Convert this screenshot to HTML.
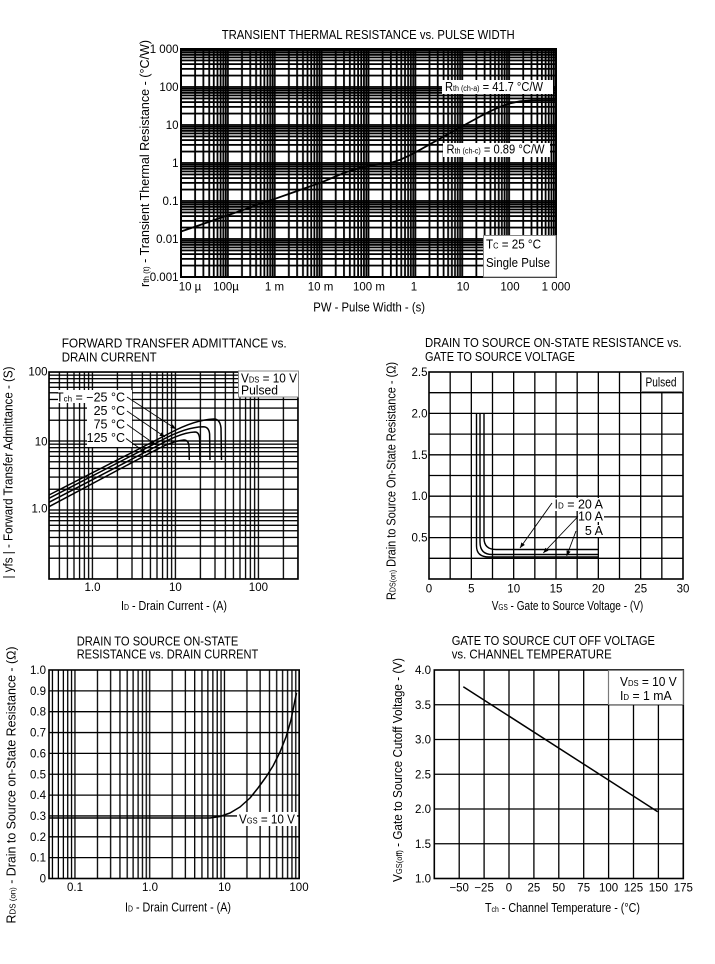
<!DOCTYPE html>
<html><head><meta charset="utf-8">
<style>
html,body{margin:0;padding:0;background:#fff;}
svg{display:block;}
text{font-family:"Liberation Sans",Arial,sans-serif;fill:#000;}
.t{font-size:11.5px;}
.h{font-size:12.5px;}
</style></head><body>
<svg width="715" height="964" viewBox="0 0 715 964" xmlns="http://www.w3.org/2000/svg">
<defs>
<marker id="ah" viewBox="0 0 10 10" refX="10" refY="5" markerWidth="6" markerHeight="6" orient="auto"><path d="M0,1 L10,5 L0,9 z" fill="#000"/></marker>
<pattern id="p1v" patternUnits="userSpaceOnUse" x="180" y="0" width="46.875" height="964">
<g fill="#000"><rect x="0.1" y="0" width="1.8" height="964"/><rect x="14.21" y="0" width="1.8" height="964"/><rect x="22.47" y="0" width="1.8" height="964"/><rect x="28.32" y="0" width="1.8" height="964"/><rect x="32.86" y="0" width="1.8" height="964"/><rect x="36.58" y="0" width="1.8" height="964"/><rect x="39.71" y="0" width="1.8" height="964"/><rect x="42.43" y="0" width="1.8" height="964"/><rect x="44.83" y="0" width="1.8" height="964"/></g>
</pattern>
<pattern id="p1h" patternUnits="userSpaceOnUse" x="0" y="12" width="715" height="38">
<g fill="#000"><rect x="0" y="36.1" width="715" height="1.8"/><rect x="0" y="24.66" width="715" height="1.8"/><rect x="0" y="17.97" width="715" height="1.8"/><rect x="0" y="13.22" width="715" height="1.8"/><rect x="0" y="9.54" width="715" height="1.8"/><rect x="0" y="6.54" width="715" height="1.8"/><rect x="0" y="4.0" width="715" height="1.8"/><rect x="0" y="1.78" width="715" height="1.8"/><rect x="0" y="0" width="715" height="1.64"/></g>
</pattern>
<pattern id="p2v" patternUnits="userSpaceOnUse" x="91.4" y="0" width="83" height="964">
<g fill="#000"><rect x="0.35" y="0" width="1.3" height="964"/><rect x="25.34" y="0" width="1.3" height="964"/><rect x="39.95" y="0" width="1.3" height="964"/><rect x="50.32" y="0" width="1.3" height="964"/><rect x="58.36" y="0" width="1.3" height="964"/><rect x="64.94" y="0" width="1.3" height="964"/><rect x="70.49" y="0" width="1.3" height="964"/><rect x="75.31" y="0" width="1.3" height="964"/><rect x="79.55" y="0" width="1.3" height="964"/></g>
</pattern>
<pattern id="p2h" patternUnits="userSpaceOnUse" x="0" y="304" width="715" height="69">
<g fill="#000"><rect x="0" y="67.35" width="715" height="1.3"/><rect x="0" y="46.58" width="715" height="1.3"/><rect x="0" y="34.43" width="715" height="1.3"/><rect x="0" y="25.81" width="715" height="1.3"/><rect x="0" y="19.12" width="715" height="1.3"/><rect x="0" y="13.66" width="715" height="1.3"/><rect x="0" y="9.04" width="715" height="1.3"/><rect x="0" y="5.04" width="715" height="1.3"/><rect x="0" y="1.51" width="715" height="1.3"/></g>
</pattern>
<pattern id="p4v" patternUnits="userSpaceOnUse" x="73.95" y="0" width="74.75" height="964">
<g fill="#000"><rect x="0.35" y="0" width="1.3" height="964"/><rect x="22.85" y="0" width="1.3" height="964"/><rect x="36.02" y="0" width="1.3" height="964"/><rect x="45.35" y="0" width="1.3" height="964"/><rect x="52.6" y="0" width="1.3" height="964"/><rect x="58.52" y="0" width="1.3" height="964"/><rect x="63.52" y="0" width="1.3" height="964"/><rect x="67.86" y="0" width="1.3" height="964"/><rect x="71.68" y="0" width="1.3" height="964"/></g>
</pattern>
</defs>

<!-- ================= TOP CHART ================= -->
<text class="h" x="221.7" y="39" textLength="293" lengthAdjust="spacingAndGlyphs">TRANSIENT THERMAL RESISTANCE vs. PULSE WIDTH</text>
<rect x="181" y="49" width="375" height="228" fill="url(#p1v)"/>
<rect x="181" y="49" width="375" height="228" fill="url(#p1h)"/>
<rect x="181" y="49" width="375" height="228" fill="none" stroke="#000" stroke-width="2"/>

<rect x="442" y="80" width="111" height="14" fill="#fff"/>
<text x="445" y="91" font-size="12.5" textLength="98" lengthAdjust="spacingAndGlyphs">R<tspan font-size="8">th (ch-a)</tspan> = 41.7 °C/W</text>
<rect x="443" y="143" width="107" height="14" fill="#fff"/>
<text x="446.5" y="153.5" font-size="12.5" textLength="98" lengthAdjust="spacingAndGlyphs">R<tspan font-size="8">th (ch-c)</tspan> = 0.89 °C/W</text>
<rect x="483.5" y="235.5" width="72.5" height="41.5" fill="#fff" stroke="#888" stroke-width="1"/>
<text x="486" y="248.5" font-size="12.5" textLength="55" lengthAdjust="spacingAndGlyphs">T<tspan font-size="8">C</tspan> = 25 °C</text>
<text x="486" y="267" font-size="12.5" textLength="64" lengthAdjust="spacingAndGlyphs">Single Pulse</text>

<polyline fill="none" stroke="#000" stroke-width="1.8" stroke-linejoin="round" points="181,231.5 200,225 230,214.5 260,204 275,198.8 300,190 321.6,182.3 345,172.5 360,168 375,165 390,163.2 400,159.8 410,155.2 420,149.8 430,144.2 440,138.6 450,133 460,127.5 470,122 480,116.5 490,111.3 500,106.8 510,103.4 520,101.3 532,100.4 545,100.2 556,100.2"/>

<g class="t" text-anchor="end">
<text x="178.5" y="53">1 000</text>
<text x="178.5" y="91">100</text>
<text x="178.5" y="129">10</text>
<text x="178.5" y="167">1</text>
<text x="178.5" y="205">0.1</text>
<text x="178.5" y="243">0.01</text>
<text x="178.5" y="281">0.001</text>
</g>
<g class="t" text-anchor="middle">
<text x="190" y="290.5">10 µ</text>
<text x="226" y="290.5">100µ</text>
<text x="274.5" y="290.5">1 m</text>
<text x="320.5" y="290.5">10 m</text>
<text x="369" y="290.5">100 m</text>
<text x="414" y="290.5">1</text>
<text x="463" y="290.5">10</text>
<text x="510" y="290.5">100</text>
<text x="556" y="290.5">1 000</text>
</g>
<text class="h" x="313.3" y="311.5" textLength="111.7" lengthAdjust="spacingAndGlyphs">PW - Pulse Width - (s)</text>
<text transform="translate(149,163.5) rotate(-90)" text-anchor="middle" font-size="12.5" textLength="247" lengthAdjust="spacingAndGlyphs">r<tspan font-size="8">th (t)</tspan> - Transient Thermal Resistance - (°C/W)</text>

<!-- ================= FORWARD TRANSFER ADMITTANCE ================= -->
<text class="h" x="61.7" y="347.5" textLength="225" lengthAdjust="spacingAndGlyphs">FORWARD TRANSFER ADMITTANCE vs.</text>
<text class="h" x="61.7" y="361.5" textLength="95" lengthAdjust="spacingAndGlyphs">DRAIN CURRENT</text>
<rect x="49" y="372" width="249" height="207" fill="url(#p2v)"/>
<rect x="49" y="372" width="249" height="207" fill="url(#p2h)"/>
<rect x="49" y="372" width="249" height="207" fill="none" stroke="#000" stroke-width="1.6"/>

<rect x="58" y="390" width="74" height="13" fill="#fff"/>
<rect x="87" y="403" width="45" height="44" fill="#fff"/>
<g font-size="12.5" text-anchor="end">
<text x="125" y="401.5">T<tspan font-size="8">ch</tspan> = −25 °C</text>
<text x="125" y="415">25 °C</text>
<text x="125" y="428.5">75 °C</text>
<text x="125" y="442">125 °C</text>
</g>
<g stroke="#000" stroke-width="0.9" marker-end="url(#ah)">
<line x1="127" y1="397" x2="176" y2="429"/>
<line x1="127" y1="411" x2="165" y2="437"/>
<line x1="127" y1="424.5" x2="156" y2="445"/>
<line x1="126" y1="438.5" x2="146" y2="453"/>
</g>
<g fill="none" stroke="#000" stroke-width="1.5" stroke-linejoin="round">
<path d="M49,495 L170,433 C185,425 200,419.5 214,419 Q220,419 221,428 L221.5,460"/>
<path d="M49,498.3 L163,439.5 C176,432.5 190,427 203,426.7 Q209,426.7 209.6,434 L210,460"/>
<path d="M49,502.3 L157,446 C168,440 182,432.5 195,432 Q199.5,432 199.7,440 L200,460"/>
<path d="M49,506.7 L150,453 C160,448 172,441 184,440 Q188.8,440 189,447 L189.3,460"/>
</g>
<rect x="238.5" y="371" width="60" height="26" fill="#fff" stroke="#888" stroke-width="1"/>
<text x="241" y="382.5" font-size="12.5" textLength="56" lengthAdjust="spacingAndGlyphs">V<tspan font-size="8">DS</tspan> = 10 V</text>
<text x="241" y="394.5" font-size="12.5" textLength="37" lengthAdjust="spacingAndGlyphs">Pulsed</text>

<g class="t" text-anchor="end">
<text x="47.5" y="375.5">100</text>
<text x="47.5" y="445.5">10</text>
<text x="47.5" y="512.5">1.0</text>
</g>
<g class="t" text-anchor="middle">
<text x="92.5" y="591">1.0</text>
<text x="175.4" y="591">10</text>
<text x="258.4" y="591">100</text>
</g>
<text x="121" y="610" font-size="12.5" textLength="106" lengthAdjust="spacingAndGlyphs">I<tspan font-size="8">D</tspan> - Drain Current - (A)</text>
<text transform="translate(12.5,472.5) rotate(-90)" text-anchor="middle" font-size="12.5" textLength="212" lengthAdjust="spacingAndGlyphs">| yfs | - Forward Transfer Admittance - (S)</text>

<!-- ================= DRAIN-SOURCE vs VGS ================= -->
<text class="h" x="425" y="347" textLength="256.7" lengthAdjust="spacingAndGlyphs">DRAIN TO SOURCE ON-STATE RESISTANCE vs.</text>
<text class="h" x="425" y="361" textLength="150" lengthAdjust="spacingAndGlyphs">GATE TO SOURCE VOLTAGE</text>
<path fill="none" stroke="#000" stroke-width="1.3" d="M450.17,372V579M471.33,372V579M492.5,372V579M513.67,372V579M534.83,372V579M556,372V579M577.17,372V579M598.33,372V579M619.5,372V579M640.67,372V579M661.83,372V579M429,392.7H683M429,413.4H683M429,434.1H683M429,454.8H683M429,475.5H683M429,496.2H683M429,516.9H683M429,537.6H683M429,558.3H683"/>
<rect x="429" y="372" width="254" height="207" fill="none" stroke="#000" stroke-width="1.6"/>
<rect x="641.5" y="372.5" width="41" height="19" fill="#fff" stroke="#888" stroke-width="1"/>
<text x="645.5" y="386.5" font-size="12.5" textLength="31" lengthAdjust="spacingAndGlyphs">Pulsed</text>

<g fill="none" stroke="#000" stroke-width="1.4" stroke-linejoin="round">
<path d="M484,413 L484,538 Q484,549.5 496,549.5 L599,549.5"/>
<path d="M480,413 L480,542 Q480,554.5 492,554.5 L599,554.5"/>
<path d="M476.5,413 L476.5,546 Q476.5,557 489,557 L599,557"/>
</g>
<rect x="555" y="498" width="49" height="13" fill="#fff"/>
<rect x="578" y="510" width="26" height="12" fill="#fff"/>
<rect x="585" y="525" width="19" height="12" fill="#fff"/>
<g font-size="12.5" text-anchor="end">
<text x="603" y="508.5">I<tspan font-size="8">D</tspan> = 20 A</text>
<text x="603" y="520.5">10 A</text>
<text x="603" y="535">5 A</text>
</g>
<g stroke="#000" stroke-width="0.9" marker-end="url(#ah)">
<line x1="552" y1="503" x2="520" y2="548"/>
<line x1="578" y1="516.5" x2="543.3" y2="553"/>
<line x1="576" y1="531" x2="566.7" y2="556"/>
</g>
<g class="t" text-anchor="end">
<text x="427.5" y="376">2.5</text>
<text x="427.5" y="417.4">2.0</text>
<text x="427.5" y="458.8">1.5</text>
<text x="427.5" y="500.2">1.0</text>
<text x="427.5" y="541.6">0.5</text>
</g>
<g class="t" text-anchor="middle">
<text x="429" y="592.5">0</text>
<text x="471.3" y="592.5">5</text>
<text x="513.7" y="592.5">10</text>
<text x="556" y="592.5">15</text>
<text x="598.3" y="592.5">20</text>
<text x="640.7" y="592.5">25</text>
<text x="683" y="592.5">30</text>
</g>
<text x="491.7" y="610" font-size="12.5" textLength="151.6" lengthAdjust="spacingAndGlyphs">V<tspan font-size="8">GS</tspan> - Gate to Source Voltage - (V)</text>
<text transform="translate(395.5,481) rotate(-90)" text-anchor="middle" font-size="12.5" textLength="238" lengthAdjust="spacingAndGlyphs">R<tspan font-size="8">DS(on)</tspan> Drain to Source On-State Resistance - (Ω)</text>

<!-- ================= BOTTOM LEFT ================= -->
<text class="h" x="76.7" y="645.5" textLength="161.6" lengthAdjust="spacingAndGlyphs">DRAIN TO SOURCE ON-STATE</text>
<text class="h" x="76.7" y="658.5" textLength="181.6" lengthAdjust="spacingAndGlyphs">RESISTANCE vs. DRAIN CURRENT</text>
<rect x="49" y="670" width="250.2" height="208.5" fill="url(#p4v)"/>
<path fill="none" stroke="#000" stroke-width="1.3" d="M49,690.85H299.2M49,711.7H299.2M49,732.55H299.2M49,753.4H299.2M49,774.25H299.2M49,795.1H299.2M49,815.95H299.2M49,836.8H299.2M49,857.65H299.2"/>
<rect x="49" y="670" width="250.2" height="208.5" fill="none" stroke="#000" stroke-width="1.6"/>
<rect x="237" y="812" width="60" height="14" fill="#fff"/>
<text x="239" y="823.5" font-size="12.5" textLength="56" lengthAdjust="spacingAndGlyphs">V<tspan font-size="8">GS</tspan> = 10 V</text>
<polyline fill="none" stroke="#000" stroke-width="1.5" stroke-linejoin="round" points="49,818 210,818 220,816.5 230,813 240,807 250,798 258,788 266,777 273,766 280,752 286,737 291,720 295,700 296.5,693"/>
<g class="t" text-anchor="end">
<text x="46" y="674">1.0</text>
<text x="46" y="694.85">0.9</text>
<text x="46" y="715.7">0.8</text>
<text x="46" y="736.55">0.7</text>
<text x="46" y="757.4">0.6</text>
<text x="46" y="778.25">0.5</text>
<text x="46" y="799.1">0.4</text>
<text x="46" y="819.95">0.3</text>
<text x="46" y="840.8">0.2</text>
<text x="46" y="861.65">0.1</text>
<text x="46" y="882.5">0</text>
</g>
<g class="t" text-anchor="middle">
<text x="75" y="891">0.1</text>
<text x="150" y="891">1.0</text>
<text x="224.5" y="891">10</text>
<text x="299" y="891">100</text>
</g>
<text x="125" y="911.5" font-size="12.5" textLength="106" lengthAdjust="spacingAndGlyphs">I<tspan font-size="8">D</tspan> - Drain Current - (A)</text>
<text transform="translate(15.5,785) rotate(-90)" text-anchor="middle" font-size="12.5" textLength="277" lengthAdjust="spacingAndGlyphs">R<tspan font-size="8">DS (on)</tspan> - Drain to Source on-State Resistance - (Ω)</text>

<!-- ================= BOTTOM RIGHT ================= -->
<text class="h" x="451.7" y="645" textLength="203.3" lengthAdjust="spacingAndGlyphs">GATE TO SOURCE CUT OFF VOLTAGE</text>
<text class="h" x="451.7" y="658.5" textLength="160" lengthAdjust="spacingAndGlyphs">vs. CHANNEL TEMPERATURE</text>
<path fill="none" stroke="#000" stroke-width="1.3" d="M459.2,670V878.5M484.1,670V878.5M509,670V878.5M533.9,670V878.5M558.8,670V878.5M583.7,670V878.5M608.6,670V878.5M633.5,670V878.5M658.4,670V878.5M434.3,704.75H683.3M434.3,739.5H683.3M434.3,774.25H683.3M434.3,809H683.3M434.3,843.75H683.3"/>
<rect x="434.3" y="670" width="249" height="208.5" fill="none" stroke="#000" stroke-width="1.6"/>
<rect x="608.6" y="670.5" width="74.5" height="34" fill="#fff" stroke="#888" stroke-width="1"/>
<text x="620" y="686" font-size="12.5" textLength="56.7" lengthAdjust="spacingAndGlyphs">V<tspan font-size="8">DS</tspan> = 10 V</text>
<text x="620" y="700" font-size="12.5" textLength="51.7" lengthAdjust="spacingAndGlyphs">I<tspan font-size="8">D</tspan> = 1 mA</text>
<line x1="463.3" y1="686.7" x2="657.7" y2="811.7" stroke="#000" stroke-width="1.5"/>
<g class="t" text-anchor="end">
<text x="431" y="674">4.0</text>
<text x="431" y="708.75">3.5</text>
<text x="431" y="743.5">3.0</text>
<text x="431" y="778.25">2.5</text>
<text x="431" y="813">2.0</text>
<text x="431" y="847.75">1.5</text>
<text x="431" y="882.5">1.0</text>
</g>
<g class="t" text-anchor="middle">
<text x="459.2" y="891.5">−50</text>
<text x="484.1" y="891.5">−25</text>
<text x="509" y="891.5">0</text>
<text x="533.9" y="891.5">25</text>
<text x="558.8" y="891.5">50</text>
<text x="583.7" y="891.5">75</text>
<text x="608.6" y="891.5">100</text>
<text x="633.5" y="891.5">125</text>
<text x="658.4" y="891.5">150</text>
<text x="683.3" y="891.5">175</text>
</g>
<text x="485" y="912" font-size="12.5" textLength="155" lengthAdjust="spacingAndGlyphs">T<tspan font-size="8">ch</tspan> - Channel Temperature - (°C)</text>
<text transform="translate(402,770) rotate(-90)" text-anchor="middle" font-size="12.5" textLength="224" lengthAdjust="spacingAndGlyphs">V<tspan font-size="8">GS(off)</tspan> - Gate to Source Cutoff Voltage - (V)</text>
</svg>
</body></html>
